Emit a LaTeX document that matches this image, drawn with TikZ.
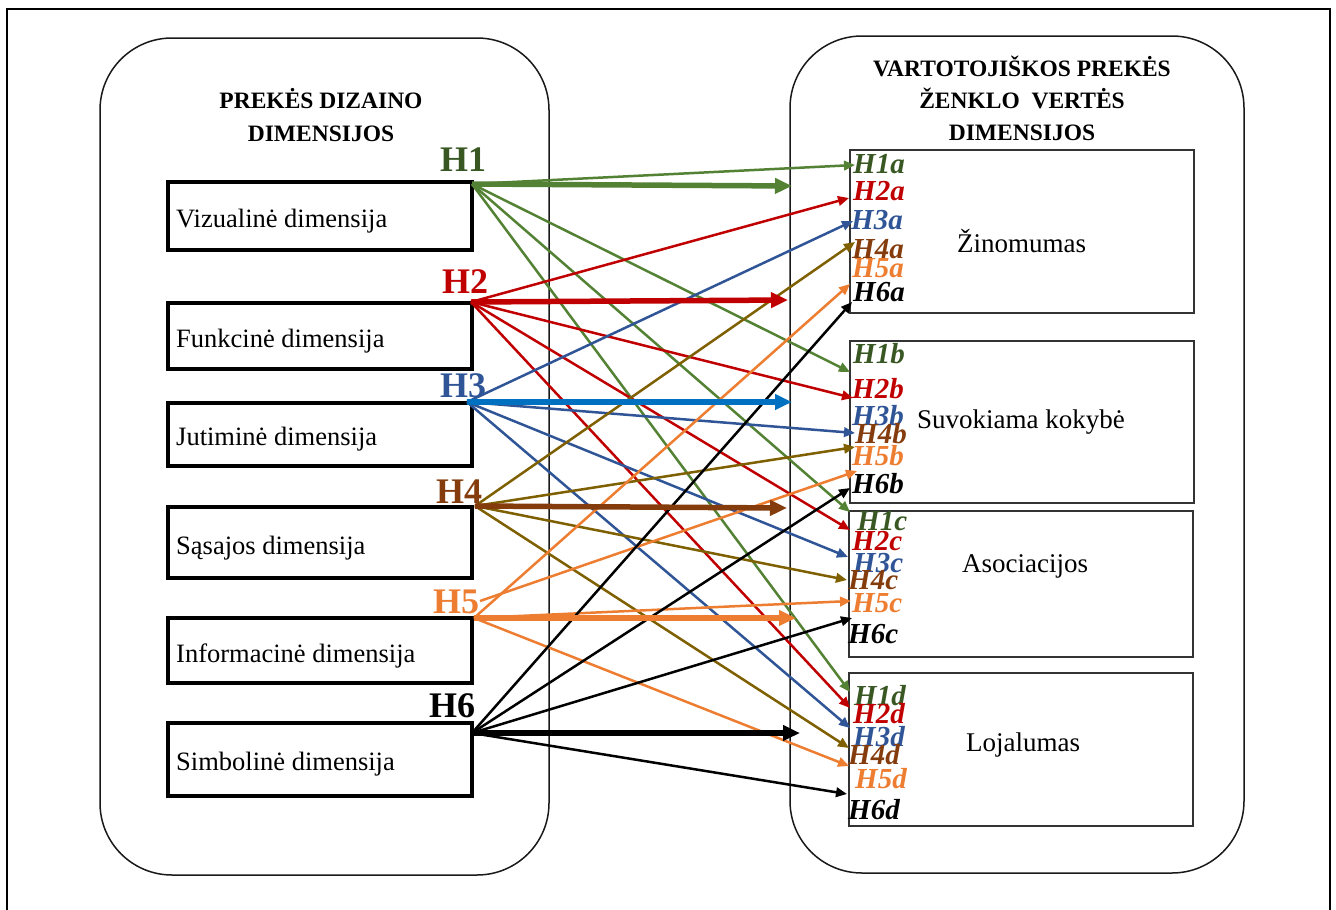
\documentclass[tikz,border=0pt]{standalone}
\usepackage{fontspec}
\setmainfont{Liberation Serif}
\usetikzlibrary{arrows.meta}

\definecolor{hgreen}{HTML}{548235}
\definecolor{hgreenD}{HTML}{385723}
\definecolor{hred}{HTML}{C00000}
\definecolor{hblue}{HTML}{2F5597}
\definecolor{hblueB}{HTML}{0070C0}
\definecolor{holive}{HTML}{7F6000}
\definecolor{hbrown}{HTML}{843C0C}
\definecolor{horange}{HTML}{ED7D31}

\begin{document}
\begin{tikzpicture}[x=1pt,y=-1pt,
  panel/.style={draw=black!90,line width=1.5pt,rounded corners=72pt,inner sep=0pt},
  dimbox/.style={draw=black,line width=4pt,inner sep=0pt,minimum width=304pt},
  valbox/.style={draw=black!80,line width=1.5pt,inner sep=0pt,minimum width=344pt},
  dimtext/.style={anchor=base west,inner sep=0pt,font=\fontsize{26.5}{30}\selectfont},
  valtext/.style={anchor=base west,inner sep=0pt,font=\fontsize{27}{30}\selectfont},
  title/.style={anchor=base,inner sep=0pt,font=\fontsize{23.5}{30}\selectfont\bfseries},
  hlabel/.style={anchor=base west,inner sep=0pt,font=\fontsize{36}{40}\selectfont\bfseries},
  sublabel/.style={anchor=base west,inner sep=0pt,font=\fontsize{29}{30}\selectfont\bfseries\itshape},
  link/.style={line width=2.5pt,-{Triangle[length=11pt,width=9.5pt]}},
  mainlink/.style={line width=5.5pt,-{Triangle[length=17pt,width=15pt]}}]

\useasboundingbox (0,0) rectangle (1336,910);

% outer frame (open at the bottom edge)
\draw[line width=2pt] (7,910) -- (7,9) -- (1330,9) -- (1330,910);

% the two panels
\node[panel,minimum width=449pt,minimum height=837pt] (designpanel) at (324.5,456.5) {};
\node[panel,minimum width=454pt,minimum height=837pt] (valuepanel) at (1017,454.5) {};

% panel titles
\node[title] (tl1) at (321,108) {PREKĖS DIZAINO};
\node[title] (tl2) at (321,141) {DIMENSIJOS};
\node[title] (tr1) at (1022,76) {VARTOTOJIŠKOS PREKĖS};
\node[title] (tr2) at (1022,108) {ŽENKLO\ \ VERTĖS};
\node[title] (tr3) at (1022,140) {DIMENSIJOS};

% design dimensions
\node[dimbox,minimum height=68pt] (vis) at (320,215.5) {};
\node[dimbox,minimum height=66pt] (fun) at (320,336) {};
\node[dimbox,minimum height=63pt] (jut) at (320,434.5) {};
\node[dimbox,minimum height=71pt] (sas) at (320,542.5) {};
\node[dimbox,minimum height=65pt] (inf) at (320,650.5) {};
\node[dimbox,minimum height=73pt] (sim) at (320,759.5) {};
\node[dimtext] (visT) at (176,227) {Vizualinė dimensija};
\node[dimtext] (funT) at (176,347) {Funkcinė dimensija};
\node[dimtext] (jutT) at (176,445) {Jutiminė dimensija};
\node[dimtext] (sasT) at (176,554) {Sąsajos dimensija};
\node[dimtext] (infT) at (176,662) {Informacinė dimensija};
\node[dimtext] (simT) at (176,770) {Simbolinė dimensija};

% brand value dimensions
\node[valbox,minimum height=163pt] (zin) at (1022,231.5) {};
\node[valbox,minimum height=162pt] (suv) at (1022,422) {};
\node[valbox,minimum height=146pt] (aso) at (1021,584) {};
\node[valbox,minimum height=153pt] (loj) at (1021,749.5) {};
\node[valtext] (zinT) at (957,252) {Žinomumas};
\node[valtext] (suvT) at (917,428) {Suvokiama kokybė};
\node[valtext] (asoT) at (962,572) {Asociacijos};
\node[valtext] (lojT) at (966,751) {Lojalumas};

% hypothesis origins
\coordinate (s1) at (472,184);
\coordinate (s2) at (471,302);
\coordinate (s3) at (467,402);
\coordinate (s4) at (475,506);
\coordinate (s5) at (474,618);
\coordinate (s5b) at (480,601);
\coordinate (s6) at (472,733);

% arrow heads at the value boxes
\coordinate (t1a) at (855,165); \coordinate (t2a) at (849,198);
\coordinate (t3a) at (853,221); \coordinate (t4a) at (855,242);
\coordinate (t5a) at (850,284); \coordinate (t6a) at (852,302);
\coordinate (t1b) at (850,372); \coordinate (t2b) at (853,398);
\coordinate (t3b) at (855,433); \coordinate (t4b) at (855,447);
\coordinate (t5b) at (857,471); \coordinate (t6b) at (850,488);
\coordinate (t1c) at (850,512); \coordinate (t2c) at (850,530);
\coordinate (t3c) at (848,557); \coordinate (t4c) at (847,580);
\coordinate (t5c) at (851,601); \coordinate (t6c) at (852,618);
\coordinate (t1d) at (850,692); \coordinate (t2d) at (850,708);
\coordinate (t3d) at (850,728); \coordinate (t4d) at (849,748);
\coordinate (t5d) at (849,766); \coordinate (t6d) at (847,794);

% ends of the main arrows
\coordinate (e1) at (792,186);
\coordinate (e2) at (788,300);
\coordinate (e3) at (792,402);
\coordinate (e4) at (787,508);
\coordinate (e5) at (796,618);
\coordinate (e6) at (800,733);

% individual hypotheses
\foreach \k in {a,b,c,d} \draw[link,hgreen] (s1) -- (t1\k);
\foreach \k in {a,b,c,d} \draw[link,hred] (s2) -- (t2\k);
\foreach \k in {a,b,c,d} \draw[link,hblue] (s3) -- (t3\k);
\foreach \k in {a,b,c,d} \draw[link,holive] (s4) -- (t4\k);
\foreach \k in {a,c,d} \draw[link,horange] (s5) -- (t5\k);
\draw[link,horange] (s5b) -- (t5b);
\foreach \k in {a,b,c,d} \draw[link,black] (s6) -- (t6\k);

% main hypotheses
\draw[mainlink,hgreen] (s1) -- (e1);
\draw[mainlink,hred] (s2) -- (e2);
\draw[mainlink,hblueB] (s3) -- (e3);
\draw[mainlink,hbrown] (s4) -- (e4);
\draw[mainlink,horange] (s5) -- (e5);
\draw[mainlink,black] (s6) -- (e6);

% hypothesis labels
\node[hlabel,text=hgreenD] (H1) at (440,171) {H1};
\node[hlabel,text=hred] (H2) at (442,293) {H2};
\node[hlabel,text=hblue] (H3) at (440,397) {H3};
\node[hlabel,text=hbrown] (H4) at (436,503) {H4};
\node[hlabel,text=horange] (H5) at (433,613) {H5};
\node[hlabel,text=black] (H6) at (429,717) {H6};

\node[sublabel,text=hgreenD] (H1a) at (853,173) {H1a};
\node[sublabel,text=hred] (H2a) at (853,200) {H2a};
\node[sublabel,text=hblue] (H3a) at (851,229) {H3a};
\node[sublabel,text=hbrown] (H4a) at (852,258) {H4a};
\node[sublabel,text=horange] (H5a) at (852,277) {H5a};
\node[sublabel,text=black] (H6a) at (853,301) {H6a};

\node[sublabel,text=hgreenD] (H1b) at (853,363) {H1b};
\node[sublabel,text=hred] (H2b) at (852,398) {H2b};
\node[sublabel,text=hblue] (H3b) at (852,425) {H3b};
\node[sublabel,text=hbrown] (H4b) at (855,443) {H4b};
\node[sublabel,text=horange] (H5b) at (852,465) {H5b};
\node[sublabel,text=black] (H6b) at (852,493) {H6b};

\node[sublabel,text=hgreenD] (H1c) at (857,530) {H1c};
\node[sublabel,text=hred] (H2c) at (852,550) {H2c};
\node[sublabel,text=hblue] (H3c) at (853,572) {H3c};
\node[sublabel,text=hbrown] (H4c) at (848,589) {H4c};
\node[sublabel,text=horange] (H5c) at (852,612) {H5c};
\node[sublabel,text=black] (H6c) at (848,643) {H6c};

\node[sublabel,text=hgreenD] (H1d) at (854,705) {H1d};
\node[sublabel,text=hred] (H2d) at (853,723) {H2d};
\node[sublabel,text=hblue] (H3d) at (853,746) {H3d};
\node[sublabel,text=hbrown] (H4d) at (848,764) {H4d};
\node[sublabel,text=horange] (H5d) at (855,788) {H5d};
\node[sublabel,text=black] (H6d) at (848,819) {H6d};

\end{tikzpicture}
\end{document}
